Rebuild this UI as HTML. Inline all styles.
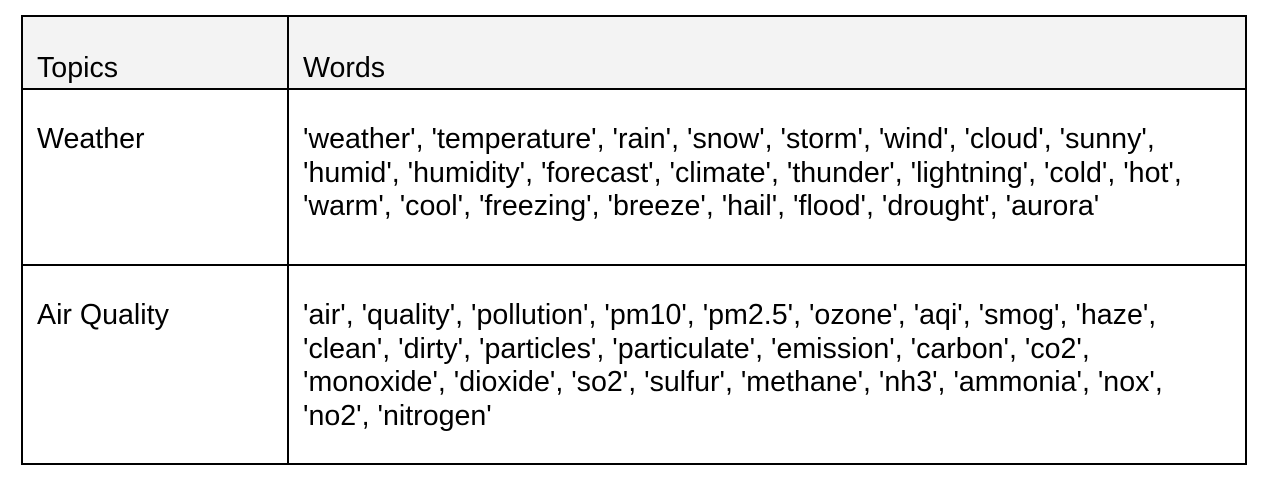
<!DOCTYPE html>
<html><head><meta charset="utf-8"><style>
body{margin:0;width:1266px;height:482px;background:#fff;position:relative;overflow:hidden;font-family:"Liberation Sans",Arial,sans-serif;color:#000}
.b{position:absolute;background:#000}
.t{position:absolute;font-size:28.6px;white-space:nowrap;line-height:33.7px}
</style></head><body>
<div style="position:absolute;left:21px;top:15px;width:1226px;height:75px;background:#f3f3f3"></div>
<div class="b" style="left:21px;top:15px;width:1226px;height:2px"></div>
<div class="b" style="left:21px;top:463px;width:1226px;height:2px"></div>
<div class="b" style="left:21px;top:15px;width:2px;height:450px"></div>
<div class="b" style="left:1245px;top:15px;width:2px;height:450px"></div>
<div class="b" style="left:287px;top:15px;width:2px;height:450px"></div>
<div class="b" style="left:21px;top:88px;width:1226px;height:2px"></div>
<div class="b" style="left:21px;top:264px;width:1226px;height:2px"></div>

<div class="t" style="left:37px;top:52px">Topics</div>
<div class="t" style="left:303px;top:52px">Words</div>

<div class="t" style="left:37px;top:123px">Weather</div>
<div class="t" style="left:303px;top:123px">'weather', 'temperature', 'rain', 'snow', 'storm', 'wind', 'cloud', 'sunny',<br>'humid', 'humidity', 'forecast', 'climate', 'thunder', 'lightning', 'cold', 'hot',<br>'warm', 'cool', 'freezing', 'breeze', 'hail', 'flood', 'drought', 'aurora'</div>

<div class="t" style="left:37px;top:299px">Air Quality</div>
<div class="t" style="left:303px;top:299px">'air', 'quality', 'pollution', 'pm10', 'pm2.5', 'ozone', 'aqi', 'smog', 'haze',<br>'clean', 'dirty', 'particles', 'particulate', 'emission', 'carbon', 'co2',<br>'monoxide', 'dioxide', 'so2', 'sulfur', 'methane', 'nh3', 'ammonia', 'nox',<br>'no2', 'nitrogen'</div>
</body></html>
